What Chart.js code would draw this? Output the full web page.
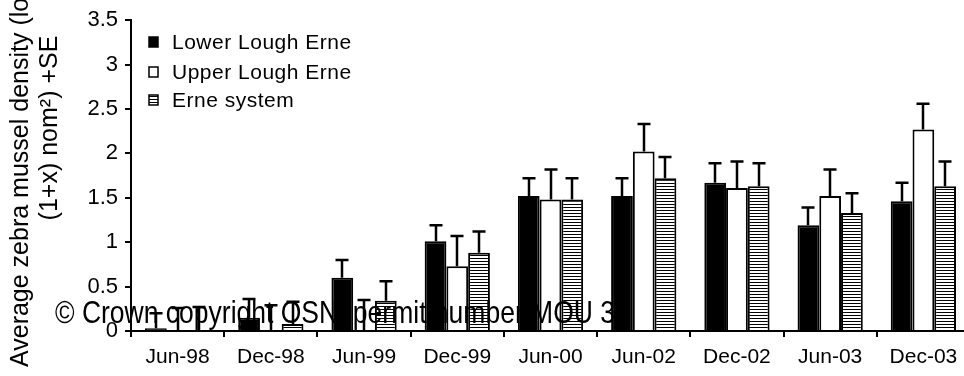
<!DOCTYPE html>
<html>
<head>
<meta charset="utf-8">
<script src="https://cdn.jsdelivr.net/npm/chart.js@4/dist/chart.umd.min.js"></script>
<style>
html,body{margin:0;padding:0;background:#fff;overflow:hidden;width:964px;height:376px;}
canvas{display:block;}
</style>
</head>
<body>
<canvas id="c" width="972" height="376"></canvas>
<script>
const categories = ["Jun-98","Dec-98","Jun-99","Dec-99","Jun-00","Jun-02","Dec-02","Jun-03","Dec-03"];
const lowerErne   = [0.03, 0.15, 0.60, 1.01, 1.52, 1.52, 1.67, 1.19, 1.46];
const lowerErneSE = [0.17, 0.21, 0.20, 0.18, 0.20, 0.20, 0.22, 0.20, 0.21];
const upperErne   = [0.01, 0.01, 0.01, 0.73, 1.48, 2.02, 1.61, 1.52, 2.27];
const upperErneSE = [0.25, 0.28, 0.34, 0.34, 0.34, 0.31, 0.30, 0.30, 0.29];
const erneSystem  = [0.01, 0.08, 0.34, 0.88, 1.48, 1.72, 1.63, 1.33, 1.63];
const erneSystemSE= [0.26, 0.25, 0.22, 0.24, 0.24, 0.24, 0.26, 0.22, 0.28];
const seriesNames = ["Lower Lough Erne","Upper Lough Erne","Erne system"];
const yTicks = [0, 0.5, 1, 1.5, 2, 2.5, 3, 3.5];
const yTitle1 = "Average zebra mussel density (log";
const yTitle2 = "(1+x) nom\u00B2) +SE";
const watermark = "\u00A9 Crown copyright OSNI permit number MOU 3";

const FONT = '"Liberation Sans", Arial, sans-serif';

// hatch pattern
const pc = document.createElement('canvas');
pc.width = 4; pc.height = 3;
const pctx = pc.getContext('2d');
pctx.fillStyle = '#fff'; pctx.fillRect(0,0,4,3);
pctx.fillStyle = '#000'; pctx.fillRect(0,0,4,1);
const ctx0 = document.getElementById('c').getContext('2d');
const hatch = ctx0.createPattern(pc, 'repeat');

const seList = [lowerErneSE, upperErneSE, erneSystemSE];

const errorBars = {
  id: 'errorBars',
  afterDatasetsDraw(chart) {
    const ctx = chart.ctx;
    const ys = chart.scales.y;
    ctx.save();
    ctx.strokeStyle = '#000';
    ctx.lineWidth = 2.5;
    chart.data.datasets.forEach((ds, i) => {
      const meta = chart.getDatasetMeta(i);
      meta.data.forEach((el, j) => {
        const top = ys.getPixelForValue(ds.data[j] + seList[i][j]);
        const x = Math.round(el.x);
        ctx.beginPath();
        ctx.moveTo(x, el.y);
        ctx.lineTo(x, top);
        ctx.moveTo(x - 6.5, top);
        ctx.lineTo(x + 6.5, top);
        ctx.stroke();
      });
    });
    ctx.restore();
  }
};

const decorations = {
  id: 'decorations',
  afterDraw(chart) {
    const ctx = chart.ctx;
    ctx.save();
    // legend
    const rows = [42, 72, 100];
    chart.data.datasets.forEach((ds, i) => {
      ctx.fillStyle = ds.backgroundColor;
      ctx.fillRect(149, rows[i] - 5, 9, 10);
      ctx.strokeStyle = '#000';
      ctx.lineWidth = 1.5;
      ctx.strokeRect(149, rows[i] - 5, 9, 10);
      ctx.fillStyle = '#000';
      ctx.font = '21px ' + FONT;
      ctx.textBaseline = 'middle';
      ctx.textAlign = 'left';
      try { ctx.letterSpacing = '0.5px'; } catch(e) {}
      ctx.fillText(seriesNames[i], 172, rows[i] + 1);
      try { ctx.letterSpacing = '0px'; } catch(e) {}
    });
    // y title
    ctx.fillStyle = '#000';
    ctx.font = '25px ' + FONT;
    ctx.save();
    ctx.translate(21, 367);
    ctx.rotate(-Math.PI/2);
    ctx.textAlign = 'left';
    ctx.textBaseline = 'middle';
    ctx.fillText(yTitle1, 0, 0);
    ctx.restore();
    ctx.save();
    ctx.translate(50, 128);
    ctx.rotate(-Math.PI/2);
    ctx.textAlign = 'center';
    ctx.textBaseline = 'middle';
    ctx.fillText(yTitle2, 0, 0);
    ctx.restore();
    // watermark
    ctx.save();
    ctx.font = '26.5px ' + FONT;
    ctx.textAlign = 'left';
    ctx.textBaseline = 'alphabetic';
    ctx.translate(55, 323);
    ctx.scale(1, 1.15);
    ctx.fillText(watermark, 0, 0);
    ctx.restore();
    ctx.restore();
  }
};

new Chart(document.getElementById('c'), {
  type: 'bar',
  data: {
    labels: categories,
    datasets: [
      { label: seriesNames[0], data: lowerErne, backgroundColor: '#000', borderColor: '#000', borderWidth: 2 },
      { label: seriesNames[1], data: upperErne, backgroundColor: '#fff', borderColor: '#000', borderWidth: 2 },
      { label: seriesNames[2], data: erneSystem, backgroundColor: hatch, borderColor: '#000', borderWidth: 2 }
    ]
  },
  options: {
    responsive: false,
    animation: false,
    devicePixelRatio: 1,
    layout: { padding: { top: 20, right: 2, bottom: 0, left: 0 } },
    datasets: { bar: { categoryPercentage: 0.7, barPercentage: 1.0, borderSkipped: 'start' } },
    plugins: { legend: { display: false }, tooltip: { enabled: false } },
    scales: {
      x: {
        grid: { offset: true, drawOnChartArea: false, drawTicks: true, tickLength: 6, color: '#000', lineWidth: 2 },
        border: { display: true, color: '#000', width: 2 },
        ticks: { color: '#000', font: { family: FONT, size: 21 }, padding: 8, maxRotation: 0, autoSkip: false },
        afterFit(s) { s.height = 45; }
      },
      y: {
        min: 0, max: 3.5,
        afterBuildTicks(s) { s.ticks = yTicks.map(v => ({ value: v })); },
        grid: { drawOnChartArea: false, drawTicks: true, tickLength: 6, color: '#000', lineWidth: 2 },
        border: { display: true, color: '#000', width: 2 },
        ticks: { color: '#000', font: { family: FONT, size: 22 }, padding: 7, callback: v => String(v) },
        afterFit(s) { s.width = 131; }
      }
    }
  },
  plugins: [errorBars, decorations]
});
</script>
</body>
</html>
